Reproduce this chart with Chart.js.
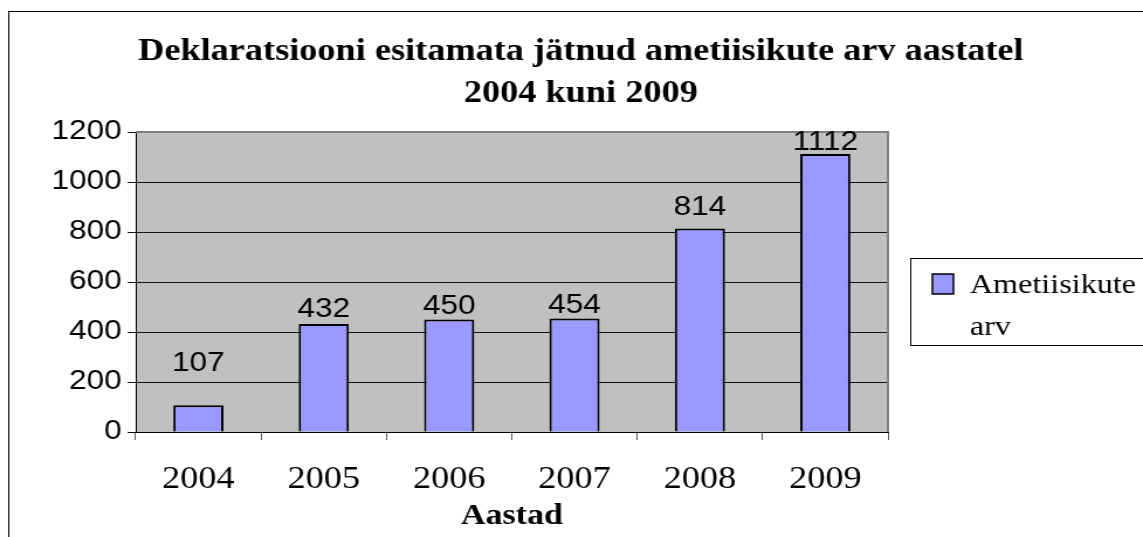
<!DOCTYPE html>
<html>
<head>
<meta charset="utf-8">
<script src="https://cdn.jsdelivr.net/npm/chart.js"></script>
<style>
  html, body { margin: 0; padding: 0; background: #fff; overflow: hidden; }
  /* the original picture is stretched sideways, so the canvas is too */
  #wrap { width: 977px; height: 537px; transform: scaleX(1.1699); transform-origin: 0 0; }
</style>
</head>
<body>
<div id="wrap"><canvas id="chart"></canvas></div>
<script>
const years = ['2004', '2005', '2006', '2007', '2008', '2009'];
const officials = [107, 432, 450, 454, 814, 1112];
const yTickValues = [0, 200, 400, 600, 800, 1000, 1200];
const titleLines = ['Deklaratsiooni esitamata jätnud ametiisikute arv aastatel', '2004 kuni 2009'];
const seriesName = 'Ametiisikute arv';
const xTitle = 'Aastad';

// gray plot area, outer frame, gray top/right edge of the plot
const plotFrame = {
  id: 'plotFrame',
  beforeDraw(chart) {
    const {ctx, chartArea: a} = chart;
    ctx.save();
    ctx.fillStyle = '#C0C0C0';
    ctx.fillRect(a.left, a.top, a.right - a.left, a.bottom - a.top);
    ctx.strokeStyle = '#000';
    ctx.lineWidth = 1;
    ctx.strokeRect(7.5, 11.5, 5000, 5000);
    ctx.restore();
  },
  beforeDatasetsDraw(chart) {
    const {ctx, chartArea: a} = chart;
    ctx.save();
    ctx.strokeStyle = '#808080';
    ctx.lineWidth = 2;
    ctx.beginPath();
    ctx.moveTo(a.left, a.top);
    ctx.lineTo(a.right, a.top);
    ctx.lineTo(a.right, a.bottom);
    ctx.stroke();
    ctx.restore();
  }
};

// numbers above the bars
const barValues = {
  id: 'barValues',
  afterDatasetsDraw(chart, args, opts) {
    const {ctx} = chart;
    const meta = chart.getDatasetMeta(0);
    const values = chart.data.datasets[0].data;
    ctx.save();
    ctx.font = opts.font;
    ctx.fillStyle = '#000';
    ctx.textAlign = 'center';
    ctx.textBaseline = 'alphabetic';
    meta.data.forEach((bar, i) => {
      ctx.fillText(String(values[i]), bar.x, bar.y - opts.gaps[i]);
    });
    ctx.restore();
  }
};

// excel style legend with a box round it
const boxLegend = {
  id: 'boxLegend',
  afterDraw(chart, args, opts) {
    const {ctx} = chart;
    const ds = chart.data.datasets[0];
    ctx.save();
    ctx.strokeStyle = '#000';
    ctx.lineWidth = 1;
    ctx.strokeRect(opts.x + 0.5, opts.y + 0.5, 1000, opts.h);
    const m = opts.marker;
    ctx.fillStyle = ds.backgroundColor;
    ctx.fillRect(m.x, m.y, m.w, m.h);
    ctx.lineWidth = 1.5;
    ctx.strokeRect(m.x, m.y, m.w, m.h);
    ctx.font = opts.font;
    ctx.fillStyle = '#000';
    ctx.textBaseline = 'alphabetic';
    const lines = [];
    ds.label.split(' ').forEach(w => {
      const last = lines[lines.length - 1];
      if (last && ctx.measureText(last + ' ' + w).width <= opts.maxWidth) {
        lines[lines.length - 1] = last + ' ' + w;
      } else {
        lines.push(w);
      }
    });
    lines.forEach((t, i) => ctx.fillText(t, opts.textX, opts.baseline + i * opts.lineGap));
    ctx.restore();
  }
};

const ctx = document.getElementById('chart').getContext('2d');
const myChart = new Chart(ctx, {
  type: 'bar',
  data: {
    labels: years,
    datasets: [{
      label: seriesName,
      data: officials,
      backgroundColor: '#9999FF',
      borderColor: '#000',
      borderWidth: 2,
      barPercentage: 0.4,
      categoryPercentage: 1,
      yAxisID: 'y'
    }]
  },
  options: {
    responsive: true,
    maintainAspectRatio: false,
    animation: false,
    layout: { padding: { left: 16, right: 0, top: 10, bottom: 0 } },
    scales: {
      x: {
        offset: true,
        afterFit: axis => { axis.height = 105; },
        grid: { display: true, drawOnChartArea: false, drawTicks: true, tickLength: 8, color: '#555', offset: true },
        border: { display: true, color: '#000', width: 1 },
        ticks: { color: '#000', font: { family: 'Liberation Serif', size: 31 }, padding: 21 },
        title: {
          display: true,
          text: xTitle,
          color: '#000',
          font: { family: 'Liberation Serif', size: 29, weight: 'bold' },
          padding: { top: 0, bottom: 3 }
        }
      },
      y: {
        min: 0,
        max: 1200,
        afterBuildTicks: axis => { axis.ticks = yTickValues.map(v => ({ value: v })); },
        afterFit: axis => { axis.width = 100; },
        grid: { color: '#111', lineWidth: 1, drawTicks: true, tickLength: 7 },
        border: { display: true, color: '#000', width: 1 },
        ticks: {
          color: '#000',
          font: { family: 'Liberation Sans', size: 27 },
          padding: 5,
          callback: v => String(v)
        }
      },
      yRight: {
        position: 'right',
        display: true,
        afterFit: axis => { axis.width = 218; },
        grid: { display: false },
        border: { display: false },
        ticks: { display: false }
      }
    },
    plugins: {
      legend: { display: false },
      tooltip: { enabled: false },
      title: {
        display: true,
        text: titleLines,
        color: '#000',
        font: { family: 'Liberation Serif', size: 31, weight: 'bold', lineHeight: '42px' },
        padding: { top: 20.5, bottom: 17.5 }
      },
      barValues: { font: '27px "Liberation Sans"', gaps: [34, 7, 6, 6, 14, 4] },
      boxLegend: {
        x: 778, y: 258, h: 87,
        marker: { x: 797, y: 274, w: 18, h: 20 },
        textX: 829, baseline: 293, lineGap: 42, maxWidth: 140,
        font: '27.5px "Liberation Serif"'
      }
    }
  },
  plugins: [plotFrame, barValues, boxLegend]
});
</script>
</body>
</html>
